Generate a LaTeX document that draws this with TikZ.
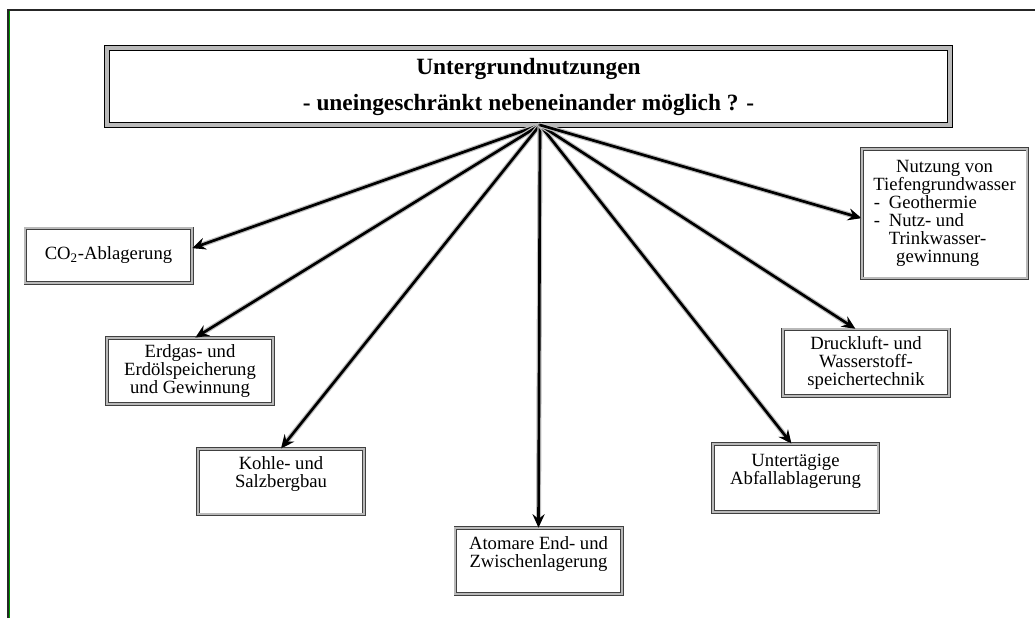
\documentclass[tikz,border=0pt]{standalone}
\usepackage{fontspec}
\setmainfont{Liberation Serif}
\usepackage{tikz}
\usetikzlibrary{arrows.meta,positioning}

\tikzset{
  kasten/.style={draw=black!75, double=gray!55, double distance=1.3pt, line width=0.6pt,
    fill=white, align=center, inner sep=2pt, font=\fontsize{14}{13.5}\selectfont},
  hauptkasten/.style={draw=black, double=gray!55, double distance=2.6pt, line width=1pt,
    fill=white, align=center, font=\bfseries\fontsize{17.5}{19}\selectfont},
  pfeil/.style={-{Stealth[length=10pt,width=9pt,inset=3.5pt]}, line width=2pt, black,
    preaction={draw=gray!50, line width=3.8pt}}
}

\begin{document}
\begin{tikzpicture}[x=0.75pt,y=-0.75pt]
\useasboundingbox (0,0) rectangle (1035,618);
% Rahmen
\draw[black!85, line width=0.8pt] (8,618) -- (8,10) -- (1035,10);
\draw[green!60!black, line width=0.6pt] (9.4,618) -- (9.4,11);
% Kaesten
\node[hauptkasten, minimum width=632pt, minimum height=58pt] (main) at (528.5,86.5)
  {Untergrundnutzungen\\[8pt]- uneingeschränkt nebeneinander möglich ? -};
\coordinate (hub) at (540,125);
\node[kasten, minimum width=125pt, minimum height=41pt] (co2) at (108.5,255.5) {CO\textsubscript{2}-Ablagerung};
\node[kasten, minimum width=124.5pt, minimum height=49.5pt] (erdgas) at (190,371) {Erdgas- und\\Erdölspeicherung\\und Gewinnung};
\node[kasten, minimum width=124.5pt, minimum height=49pt] (kohle) at (281,481.5) {Kohle- und\\Salzbergbau\\ \mbox{}};
\node[kasten, minimum width=125pt, minimum height=49.5pt] (atomar) at (538.5,561) {Atomare End- und\\Zwischenlagerung\\ \mbox{}};
\node[kasten, minimum width=124pt, minimum height=51pt] (abfall) at (795.5,478) {Untertägige\\Abfallablagerung\\ \mbox{}};
\node[kasten, minimum width=124.5pt, minimum height=50pt] (druck) at (866,362.5) {Druckluft- und\\Wasserstoff-\\speichertechnik};
\node[kasten, minimum width=124pt, minimum height=97pt] (wasser) at (944.5,213.5)
  {Nutzung von\\Tiefengrundwasser\\
   \makebox[106pt][l]{\makebox[0.8em][l]{-}Geothermie}\\
   \makebox[106pt][l]{\makebox[0.8em][l]{-}Nutz- und}\\
   \makebox[106pt][l]{\hspace*{0.8em}Trinkwasser-}\\
   \makebox[106pt][l]{\hspace*{1.2em}gewinnung}};
% Pfeile
\draw[pfeil] (hub) -- ([yshift=5.5pt]co2.east);
\draw[pfeil] (hub) -- ([xshift=4pt]erdgas.north);
\draw[pfeil] (hub) -- (kohle.north);
\draw[pfeil] (hub) -- (atomar.north);
\draw[pfeil] (hub) -- ([xshift=-3pt]abfall.north);
\draw[pfeil] (hub) -- ([xshift=-8pt]druck.north);
\draw[pfeil] (hub) -- ([yshift=-3.5pt]wasser.west);
\end{tikzpicture}
\end{document}
